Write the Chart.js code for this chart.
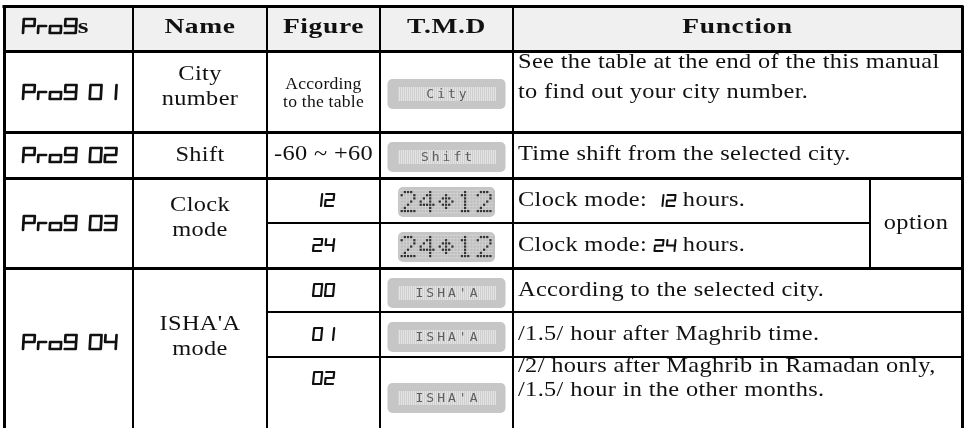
<!DOCTYPE html>
<html>
<head>
<meta charset="utf-8">
<script src="https://cdn.jsdelivr.net/npm/chart.js@4/dist/chart.umd.min.js"></script>
<style>
  html, body { margin: 0; padding: 0; background: #fff; }
  canvas { display: block; }
</style>
</head>
<body>
<canvas id="progTable" width="966" height="428"></canvas>
<script>
// table content ([..] = seven segment digits)
const headers = ["[Pro9]s", "Name", "Figure", "T.M.D", "Function"];
const progCodes = ["[Pro9 01]", "[Pro9 02]", "[Pro9 03]", "[Pro9 04]"];
const progNames = [["City", "number"], ["Shift"], ["Clock", "mode"], ["ISHA'A", "mode"]];
const subRowProg = [0, 1, 2, 2, 3, 3, 3];
const figureValues = [["According", "to the table"], ["-60 ~ +60"], ["[12]"], ["[24]"], ["[00]"], ["[01]"], ["[02]"]];
const displayTexts = ["City", "Shift", "24<>12", "24<>12", "ISHA'A", "ISHA'A", "ISHA'A"];
const functionTexts = [
  ["See the table at the end of the this manual", "to find out your city number."],
  ["Time shift from the selected city."],
  ["Clock mode: [12] hours."],
  ["Clock mode: [24] hours."],
  ["According to the selected city."],
  ["/1.5/ hour after Maghrib time."],
  ["/2/ hours after Maghrib in Ramadan only,", "/1.5/ hour in the other months."]
];
const optionText = "option";

// layout (in chart units = pixels)
const colX = [4, 133, 267, 380, 513, 962];
const optionX = 870;
const rowY = [6, 51, 132, 178, 223, 268, 312, 357, 440];
const progMid = [92, 155, 223, 342];
const lineBase = [68, 160, 206, 251, 296, 340, 372];
const lineGap = [30, 0, 0, 0, 0, 0, 24];
const figMid = [92, 155, 200, 245, 290, 334, 378];
const lcdMid = [94, 157, 202, 247, 293, 337, 398];

const INK = "#111";
const SERIF = "'Liberation Serif', 'Times New Roman', serif";
const BODY = { font: "21px " + SERIF, sx: 1.16, ls: 0.3 };
const HEAD = { font: "bold 22px " + SERIF, sx: 1.25, ls: 0.5 };
const SMALL = { font: "16px " + SERIF, sx: 1.1, ls: 0.2 };
const SEG_BIG = { h: 14, w: 11, lw: 2.7, gap: 4, space: 10, slant: 0.06 };
const SEG_MID = { h: 12, w: 8, lw: 2.2, gap: 4, space: 6, slant: 0.1 };
const SEG_SMALL = { h: 11, w: 8, lw: 2, gap: 4, space: 6, slant: 0.1 };

const SEG_MAP = { P: "abefg", r: "eg", o: "cdeg", "0": "abcdef", "1": "bc", "2": "abdeg", "3": "abcdg", "4": "bcfg", "9": "abcdfg" };

const DOT_GLYPHS = {
  "2": ["01110", "10001", "00001", "00010", "00100", "01000", "11111"],
  "4": ["00010", "00110", "01010", "10010", "11111", "00010", "00010"],
  "1": ["00100", "01100", "00100", "00100", "00100", "00100", "01110"],
  "<>": ["00000", "00100", "01110", "10101", "01110", "00100", "00000"]
};

function segCharW(ch, s) { return ch === "r" ? s.w * 0.7 : s.w; }

function segWidth(str, s) {
  let w = 0;
  for (const ch of str) w += ch === " " ? s.space : segCharW(ch, s) + s.gap;
  return w - s.gap;
}

function drawSeg(ctx, str, x, base, s) {
  ctx.save();
  ctx.transform(1, 0, -s.slant, 1, s.slant * base, 0);
  ctx.strokeStyle = INK;
  ctx.lineWidth = s.lw;
  ctx.lineCap = "round";
  let cx = x;
  for (const ch of str) {
    if (ch === " ") { cx += s.space; continue; }
    const w = segCharW(ch, s);
    const t = base - s.h, m = base - s.h / 2, b = base;
    const p = {
      a: [cx, t, cx + w, t], b: [cx + w, t, cx + w, m], c: [cx + w, m, cx + w, b],
      d: [cx, b, cx + w, b], e: [cx, m, cx, b], f: [cx, t, cx, m], g: [cx, m, cx + w, m]
    };
    ctx.beginPath();
    for (const k of SEG_MAP[ch] || "") {
      ctx.moveTo(p[k][0], p[k][1]);
      ctx.lineTo(p[k][2], p[k][3]);
    }
    ctx.stroke();
    cx += w + s.gap;
  }
  ctx.restore();
}

function textW(ctx, str, st) {
  ctx.save();
  ctx.font = st.font;
  ctx.letterSpacing = st.ls + "px";
  const w = ctx.measureText(str).width * st.sx;
  ctx.restore();
  return w;
}

function drawText(ctx, str, x, base, st) {
  ctx.save();
  ctx.translate(x, base);
  ctx.scale(st.sx, 1);
  ctx.font = st.font;
  ctx.letterSpacing = st.ls + "px";
  ctx.fillStyle = INK;
  ctx.textAlign = "left";
  ctx.textBaseline = "alphabetic";
  ctx.fillText(str, 0, 0);
  ctx.restore();
}

// text with [..] parts drawn as seven segment digits
function drawRich(ctx, str, x, base, align, st, seg) {
  const parts = str.split(/(\[[^\]]*\])/).filter((p) => p.length);
  const widths = parts.map((p) => p[0] === "[" ? segWidth(p.slice(1, -1), seg) + 3 : textW(ctx, p, st));
  const total = widths.reduce((a, b) => a + b, 0);
  let cx = align === "center" ? x - total / 2 : x;
  parts.forEach((p, i) => {
    if (p[0] === "[") drawSeg(ctx, p.slice(1, -1), cx + 1, base, seg);
    else drawText(ctx, p, cx, base, st);
    cx += widths[i];
  });
}

function drawLcd(ctx, cx, cy, label) {
  ctx.save();
  if (label === "24<>12") {
    const w = 97, h = 30;
    ctx.fillStyle = "#c6c6c6";
    ctx.beginPath();
    ctx.roundRect(cx - w / 2, cy - h / 2, w, h, 5);
    ctx.fill();
    const glyphs = ["2", "4", "<>", "1", "2"];
    const pitch = 3.17, dot = 2.3;
    const cols = glyphs.length * 6 - 1;
    const x0 = cx - (cols * pitch) / 2, y0 = cy - (7 * pitch) / 2;
    ctx.fillStyle = "#d3d3d3";
    ctx.fillRect(x0 - 1, y0 - 1, cols * pitch + 1, 7 * pitch + 1);
    for (let gi = 0; gi < glyphs.length; gi++) {
      const rows = DOT_GLYPHS[glyphs[gi]];
      for (let r = 0; r < 7; r++) {
        for (let c = 0; c < 6; c++) {
          const on = c < 5 && rows[r][c] === "1";
          ctx.fillStyle = on ? "#333" : "#bdbdbd";
          ctx.fillRect(x0 + (gi * 6 + c) * pitch, y0 + r * pitch, dot, dot);
        }
      }
    }
  } else {
    const w = 118, h = 30;
    ctx.fillStyle = "#c6c6c6";
    ctx.beginPath();
    ctx.roundRect(cx - w / 2, cy - h / 2, w, h, 5);
    ctx.fill();
    const iw = 98, ih = 14;
    const ix = Math.round(cx - iw / 2), iy = Math.round(cy - ih / 2);
    ctx.fillStyle = "#e3e3e3";
    ctx.fillRect(ix, iy, iw, ih);
    ctx.fillStyle = "#cfcfcf";
    for (let x = ix; x < ix + iw; x += 2) ctx.fillRect(x, iy, 1, ih);
    ctx.font = "13px 'DejaVu Sans Mono', monospace";
    ctx.letterSpacing = "3px";
    ctx.fillStyle = "#5e5e5e";
    ctx.textAlign = "center";
    ctx.textBaseline = "middle";
    ctx.fillText(label, cx + 1.5, cy + 0.5);
  }
  ctx.restore();
}

const tablePlugin = {
  id: "progTable",
  afterDraw(chart) {
    const ctx = chart.ctx;
    const X = (v) => chart.scales.x.getPixelForValue(v);
    const Y = (v) => chart.scales.y.getPixelForValue(v);
    const right = X(colX[5]), left = X(colX[0]), top = Y(rowY[0]);

    // header band
    ctx.fillStyle = "#f0f0f0";
    ctx.fillRect(left, top, right - left, Y(rowY[1]) - top);

    // header texts
    drawRich(ctx, headers[0], X(22), Y(33), "left", HEAD, SEG_BIG);
    for (let c = 1; c < headers.length; c++) {
      drawRich(ctx, headers[c], X((colX[c] + colX[c + 1]) / 2), Y(33), "center", HEAD, SEG_BIG);
    }

    // program code + name (spanning sub rows)
    progCodes.forEach((code, p) => {
      const mid = progMid[p];
      drawRich(ctx, code, X(22), Y(mid + SEG_BIG.h / 2), "left", BODY, SEG_BIG);
      const nx = X((colX[1] + colX[2]) / 2);
      const lines = progNames[p];
      if (lines.length === 1) drawText(ctx, lines[0], nx - textW(ctx, lines[0], BODY) / 2, Y(mid + 6), BODY);
      else lines.forEach((ln, i) => drawText(ctx, ln, nx - textW(ctx, ln, BODY) / 2, Y(mid - 12 + i * 25), BODY));
    });

    // sub rows: figure, display, function
    subRowProg.forEach((p, r) => {
      const fx = X((colX[2] + colX[3]) / 2);
      const fig = figureValues[r];
      if (fig.length === 2) {
        fig.forEach((ln, i) => drawText(ctx, ln, fx - textW(ctx, ln, SMALL) / 2, Y(89 + i * 18), SMALL));
      } else if (fig[0][0] === "[") {
        drawRich(ctx, fig[0], fx, Y(figMid[r] + SEG_MID.h / 2), "center", BODY, SEG_MID);
      } else {
        drawRich(ctx, fig[0], fx, Y(lineBase[r]), "center", BODY, SEG_MID);
      }
      drawLcd(ctx, X((colX[3] + colX[4]) / 2), Y(lcdMid[r]), displayTexts[r]);
      functionTexts[r].forEach((ln, i) => {
        drawRich(ctx, ln, X(colX[4] + 5), Y(lineBase[r] + i * lineGap[r]), "left", BODY, SEG_SMALL);
      });
    });
    drawText(ctx, optionText, X((optionX + colX[5]) / 2) - textW(ctx, optionText, BODY) / 2, Y(229), BODY);

    // grid lines
    ctx.strokeStyle = "#000";
    const hline = (y, x1, x2, lw) => {
      ctx.lineWidth = lw;
      ctx.beginPath();
      ctx.moveTo(X(x1), Y(y) + (lw % 2 ? 0.5 : 0));
      ctx.lineTo(X(x2), Y(y) + (lw % 2 ? 0.5 : 0));
      ctx.stroke();
    };
    const vline = (x, y1, y2, lw) => {
      ctx.lineWidth = lw;
      ctx.beginPath();
      ctx.moveTo(X(x) + (lw % 2 ? 0.5 : 0), Y(y1));
      ctx.lineTo(X(x) + (lw % 2 ? 0.5 : 0), Y(y2));
      ctx.stroke();
    };
    for (let c = 1; c < colX.length - 1; c++) vline(colX[c], rowY[0], rowY[rowY.length - 1], 2);
    vline(optionX, rowY[3], rowY[5], 2);
    hline(rowY[1], colX[0], colX[5], 3);
    for (let r = 1; r < subRowProg.length; r++) {
      const major = subRowProg[r] !== subRowProg[r - 1];
      const x2 = subRowProg[r] === 2 ? optionX : colX[5];
      if (major) hline(rowY[r + 1], colX[0], colX[5], 3);
      else hline(rowY[r + 1], colX[2], x2, 2);
    }
    // outer border (bottom runs off the page)
    hline(rowY[0], colX[0] - 1.5, colX[5] + 1.5, 3);
    vline(colX[0], rowY[0], rowY[rowY.length - 1], 3);
    vline(colX[5], rowY[0], rowY[rowY.length - 1], 3);
  }
};

new Chart(document.getElementById("progTable"), {
  type: "scatter",
  data: { datasets: [] },
  options: {
    responsive: false,
    animation: false,
    devicePixelRatio: 1,
    layout: { padding: 0 },
    plugins: { legend: { display: false }, tooltip: { enabled: false } },
    scales: {
      x: { type: "linear", min: 0, max: 966, display: false },
      y: { type: "linear", min: 0, max: 428, reverse: true, display: false }
    }
  },
  plugins: [tablePlugin]
});
</script>
</body>
</html>
